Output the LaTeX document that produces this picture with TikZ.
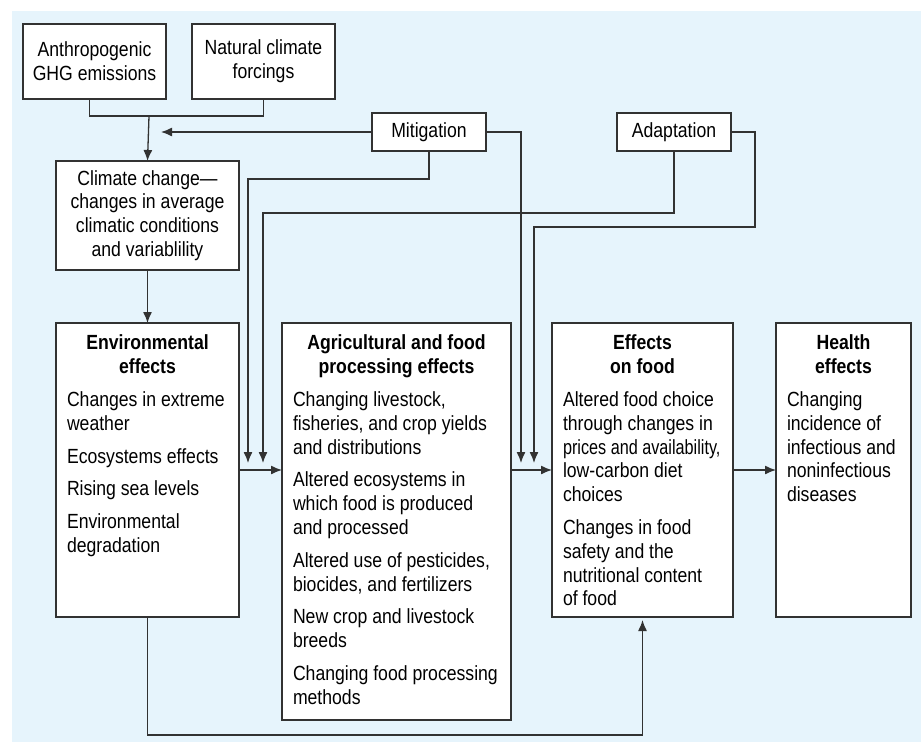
\documentclass[tikz,border=0pt]{standalone}
\usepackage{fontspec}
\setmainfont[FakeStretch=0.86]{Liberation Sans}
\usepackage{tikz}
\usetikzlibrary{arrows.meta,positioning}
\definecolor{bgblue}{RGB}{230,244,252}
\definecolor{ink}{RGB}{50,50,50}
\tikzset{every picture/.style={
  >={Latex[length=11pt,width=9pt]}   % Filled arrow heads.
  }
}
% Fixed-height text block for the effect panels.
\newcommand{\panelbox}[3]{\parbox[t][#1pt][t]{#2pt}{\setlength{\parskip}{9pt}\raggedright #3}}
\newcommand{\panelhead}[1]{{\centering\bfseries #1\par}}

\begin{document}
\begin{tikzpicture}[
    x=1pt, y=-1pt,
    box/.style={
      draw=ink,
      line width=1.6pt,
      fill=white,
      inner sep=0pt,
      outer sep=0pt,
      align=center,
      anchor=north west,
      font=\fontsize{20.5pt}{23.8pt}\selectfont
    },
    panel/.style={
      draw=ink,
      line width=1.6pt,
      fill=white,
      inner xsep=11pt,
      inner ysep=12pt,
      outer sep=0pt,
      anchor=north west,
      font=\fontsize{20.5pt}{23.8pt}\selectfont
    },
    link/.style={
      draw=ink,
      line width=1.3pt
    }]

    % Backdrop.
    \useasboundingbox (0,0) rectangle (921,742);
    \fill[bgblue] (12,11) rectangle (921,742);

    % Driving forces and the climate box.
    \node[box,minimum width=143pt,minimum height=75pt] (anthro) at (23,24)
      {Anthropogenic\\GHG emissions};
    \node[box,minimum width=143pt,minimum height=75pt,right=26pt of anthro]
      (natural) {Natural climate\\forcings};
    \node[box,minimum width=183pt,minimum height=109pt] (climate) at (56,161)
      {Climate change---\\changes in average\\climatic conditions\\and variablility};

    % Responses.
    \node[box,minimum width=114pt,minimum height=38pt] (mitig) at (372,113)
      {Mitigation};
    \node[box,minimum width=114pt,minimum height=38pt,right=131pt of mitig]
      (adapt) {Adaptation};

    % The row of effects.
    \node[panel] (env) at (56,323) {\panelbox{270}{161}{%
      \panelhead{Environmental\\effects}
      Changes in extreme\\weather\par
      Ecosystems effects\par
      Rising sea levels\par
      Environmental\\degradation}};
    \node[panel,below right=0pt and 43pt of env.north east] (agri)
      {\panelbox{373}{207}{%
      \panelhead{Agricultural and food\\processing effects}
      Changing livestock,\\fisheries, and crop yields\\and distributions\par
      Altered ecosystems in\\which food is produced\\and processed\par
      Altered use of pesticides,\\biocides, and fertilizers\par
      New crop and livestock\\breeds\par
      Changing food processing\\methods}};
    \node[panel,below right=0pt and 41pt of agri.north east] (food)
      {\panelbox{270}{159}{%
      \panelhead{Effects\\on food}
      Altered food choice\\through changes in\\
      \scalebox{0.92}[1]{prices and availability,}\\low-carbon diet\\choices\par
      Changes in food\\safety and the\\nutritional content\\of food}};
    \node[panel,below right=0pt and 43pt of food.north east] (health)
      {\panelbox{270}{113}{%
      \panelhead{Health\\effects}
      Changing\\incidence of\\infectious and\\noninfectious\\diseases}};

    % Forces merge into climate change.
    \coordinate (merge) at (149,116);
    \draw[link] ([xshift=-5pt]anthro.south) |- (merge) -| (natural.south);
    \draw[link,->] (merge) -- (climate.north);
    \draw[link,->,shorten >=12pt] (mitig.west) -- (merge |- mitig.west);
    \draw[link,->] (climate.south) -- (env.north);

    % Responses acting on the flow.
    \coordinate (tipA) at (248,463);
    \coordinate (tipB) at (263,463);
    \coordinate (tipC) at (521,463);
    \coordinate (tipD) at (534,463);
    \draw[link,->] (mitig.south) -- ++(0,28) -| (tipA);
    \draw[link,->] (adapt.south) -- ++(0,62) -| (tipB);
    \draw[link,->] (mitig.east) -| (tipC);
    \draw[link,->] (adapt.east) -- ++(24,0) -- ++(0,95) -| (tipD);

    % Flow of effects.
    \draw[link,->] (env.east) -- (env.east -| agri.west);
    \draw[link,->] (food.west -| agri.east) -- (food.west);
    \draw[link,->] (food.east) -- (health.west);
    \draw[link,->,shorten >=3pt] (env.south) -- ++(0,118) -| (food.south);
\end{tikzpicture}
\end{document}
